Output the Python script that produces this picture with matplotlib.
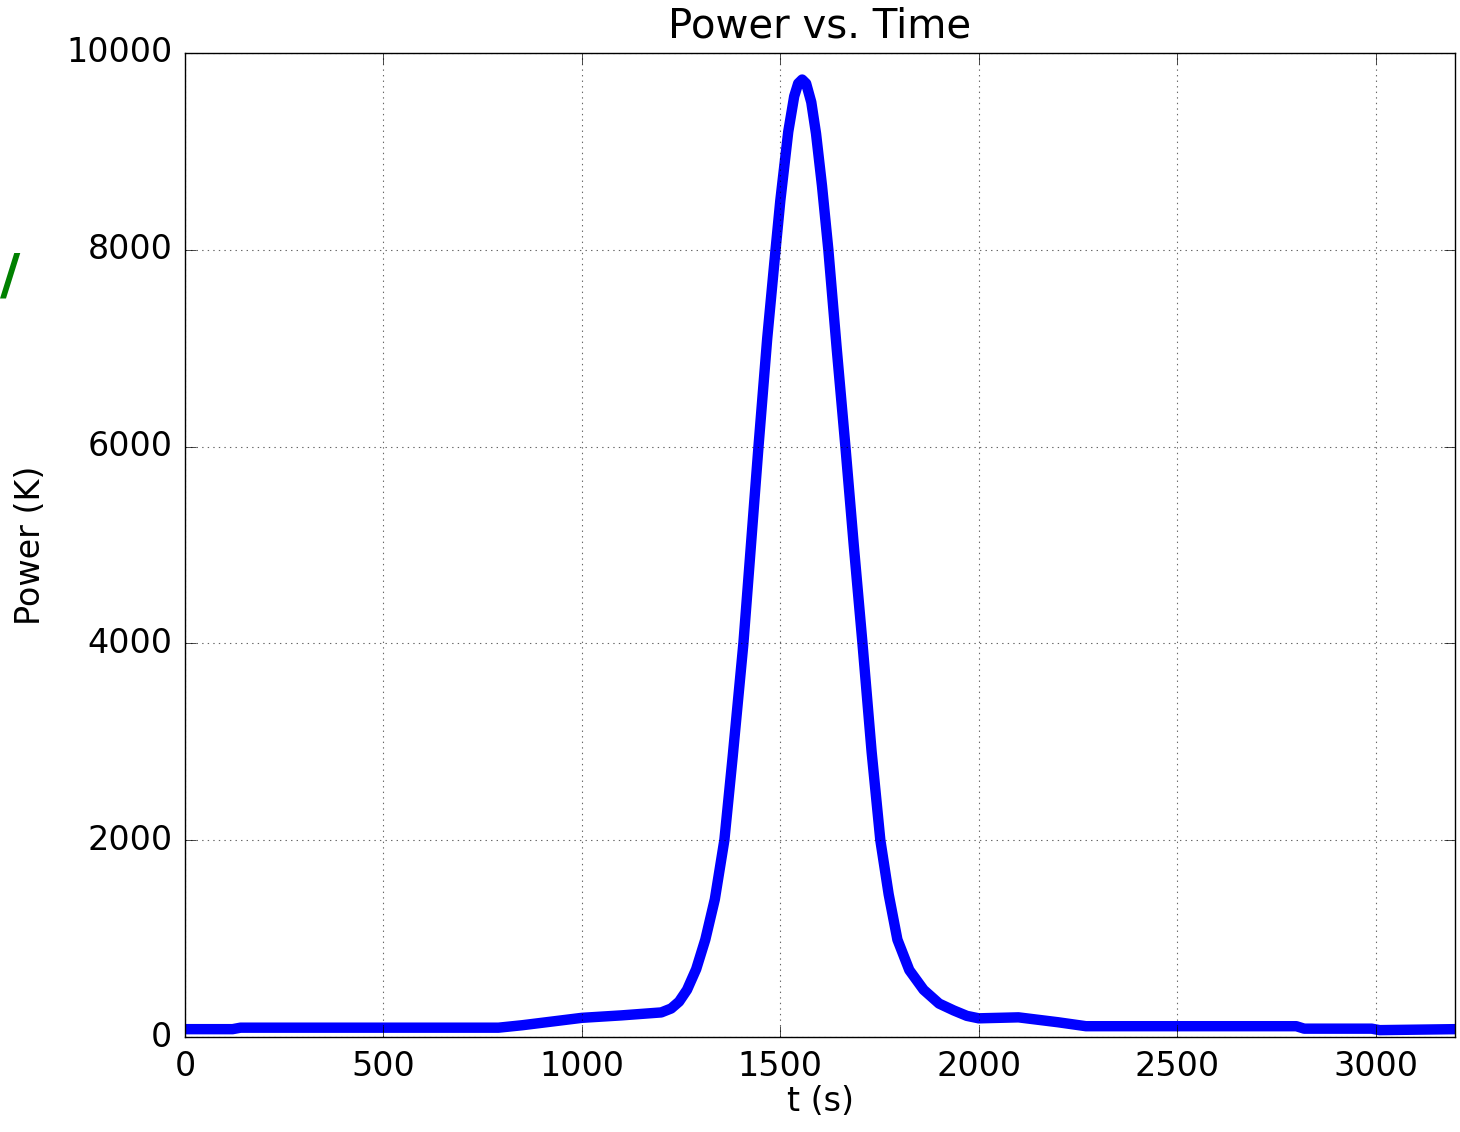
import matplotlib
matplotlib.use("Agg")
import matplotlib.pyplot as plt

plt.style.use("classic")
plt.rcParams["font.family"] = ["DejaVu Sans"]

# values
tiempo = [0, 120, 140, 400, 790, 850, 950, 1000, 1100, 1200, 1225, 1245,
          1265, 1288, 1311, 1335, 1359, 1380, 1407, 1426, 1445, 1467, 1488,
          1500, 1520, 1535, 1545, 1555, 1565, 1578, 1590, 1605, 1621, 1642,
          1664, 1685, 1707, 1730, 1752, 1773, 1795, 1825, 1861, 1900, 1937,
          1970, 2000, 2100, 2200, 2270, 2800, 2820, 2990, 3010, 3200]
potencia = [80, 80, 95, 95, 95, 120, 170, 195, 220, 250, 290, 360,
            480, 690, 990, 1400, 2000, 2850, 4000, 5000, 6000, 7100, 8000,
            8500, 9200, 9560, 9690, 9730, 9690, 9500, 9180, 8650, 8000, 7000,
            6000, 5000, 4000, 2900, 2000, 1450, 990, 680, 480, 340, 270,
            215, 190, 200, 150, 110, 110, 85, 85, 70, 80]

xticks = [0, 500, 1000, 1500, 2000, 2500, 3000]
yticks = [0, 2000, 4000, 6000, 8000, 10000]

fig = plt.figure(figsize=(14.6, 11.32), dpi=100, facecolor="white")
ax = fig.add_axes([0.1267, 0.0839, 0.8699, 0.8693])

ax.plot(tiempo, potencia, color="b", linewidth=7.5, solid_joinstyle="round",
        solid_capstyle="round")

ax.set_xlim(0, 3200)
ax.set_ylim(0, 10000)
ax.set_xticks(xticks)
ax.set_yticks(yticks)
ax.tick_params(labelsize=24, pad=9, length=8)
ax.grid(True, color="k", linestyle=":", linewidth=0.8, alpha=0.6)

ax.set_title("Power vs. Time", fontsize=29, pad=11)
ax.set_xlabel("t (s)", fontsize=24, labelpad=2)
ax.set_ylabel("Power (K)", fontsize=24, labelpad=14)

# green mark cut at the left edge of the screenshot
fig.text(0.0, 0.742, "/", color="green", fontsize=40, fontweight="bold")

fig.savefig("out.png", dpi=100, facecolor="white")
